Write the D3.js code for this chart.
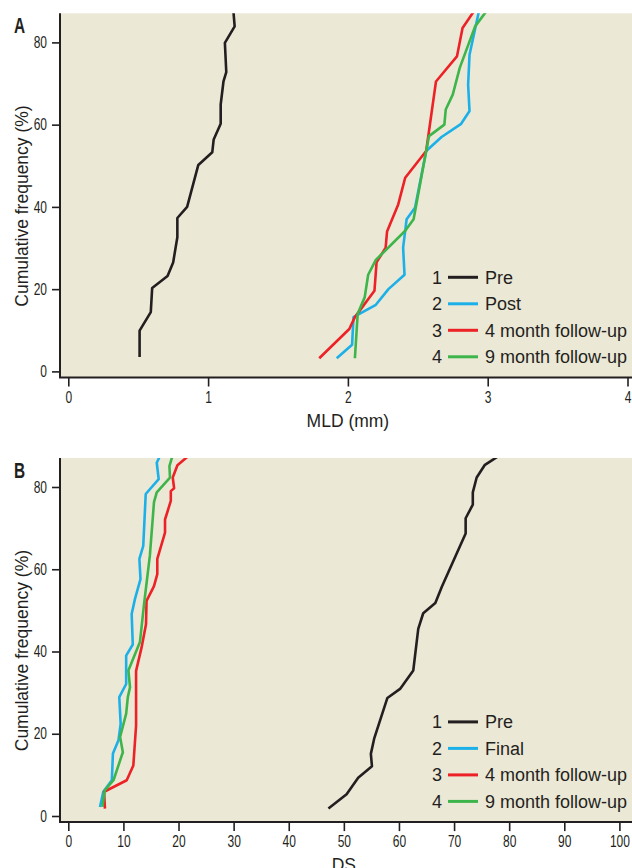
<!DOCTYPE html>
<html>
<head>
<meta charset="utf-8">
<script src="https://cdn.jsdelivr.net/npm/d3@7/dist/d3.min.js"></script>
<style>
  body { margin: 0; background: #fff; }
  svg { display: block; }
  .tick text { font-family: "Liberation Sans", Arial, sans-serif; font-size: 16px; fill: #231f20; }
  .tick line { stroke: #231f20; stroke-width: 1.6; }
  .title { font-family: "Liberation Sans", Arial, sans-serif; font-size: 17.5px; fill: #231f20; }
  .legend text { font-family: "Liberation Sans", Arial, sans-serif; font-size: 18px; fill: #231f20; }
  .panel-label { font-family: "Liberation Sans", Arial, sans-serif; font-weight: bold; font-size: 22px; fill: #231f20; }
</style>
</head>
<body>
<script>
// cumulative frequency (%) vs value
const freqTicks = [0, 20, 40, 60, 80];
const mldTicks = [0, 1, 2, 3, 4];
const dsTicks = [0, 10, 20, 30, 40, 50, 60, 70, 80, 90, 100];

const mldNames = ["Pre", "Post", "4 month follow-up", "9 month follow-up"];
const dsNames = ["Pre", "Final", "4 month follow-up", "9 month follow-up"];
const colors = ["#231f20", "#1cb0e8", "#ec2227", "#3db54a"];

const mldPre = [[0.51,3.5],[0.51,9.9],[0.59,14.4],[0.60,20.3],[0.71,23.2],[0.75,26.5],[0.78,32.6],[0.78,37.3],[0.85,40],[0.93,50.2],[1.03,53.3],[1.04,56.4],[1.09,60.2],[1.09,64.9],[1.11,70.5],[1.13,72.8],[1.12,79.9],[1.19,83.9],[1.18,88]];
const mldPost = [[1.92,3.2],[2.03,6.5],[2.04,13.2],[2.2,16.2],[2.29,20],[2.405,23.5],[2.395,30.1],[2.42,37],[2.48,39.8],[2.56,53.6],[2.67,57],[2.81,60.2],[2.87,63.3],[2.86,69.7],[2.87,77],[2.94,88]];
const mld4m = [[1.795,3.2],[2.01,10.3],[2.05,13.2],[2.19,19.6],[2.205,26.5],[2.27,30.1],[2.28,34],[2.36,40.6],[2.41,47.1],[2.56,53.6],[2.63,70.5],[2.78,76.6],[2.82,83.5],[2.91,88]];
const mld9m = [[2.05,3.2],[2.07,14],[2.12,18],[2.145,23.5],[2.2,27.1],[2.41,34.2],[2.47,37],[2.56,53.6],[2.58,57.2],[2.69,60],[2.70,63.7],[2.75,67.3],[2.8,73.8],[2.91,83.9],[3.0,88]];

const dsPre = [[47.2,1.8],[50.5,5.3],[52.6,9.3],[55.1,12.1],[54.9,15.1],[55.5,18.8],[57.9,28.7],[60.2,30.9],[62.6,35.4],[63.5,45.5],[64.4,49.3],[66.6,51.8],[67.8,55.8],[72.1,68.7],[72.1,72.4],[73.4,75.7],[73.4,78.7],[74.1,82.3],[75.6,85.4],[77,86.6],[78.6,88]];
const dsFinal = [[5.75,2.2],[6.35,5.9],[7.9,8.7],[8.1,15.2],[9.1,18.4],[9.5,22.4],[9.25,28.9],[10.5,32.1],[10.5,39],[11.7,41.7],[11.5,49.1],[12.1,52.8],[13.1,57.6],[12.9,62.5],[13.6,65.7],[14.05,78.3],[16.4,81.9],[16.05,85.9],[16.8,88]];
const ds4m = [[6.65,1.8],[6.5,5.9],[10.6,8.7],[11.8,12.3],[12.3,22],[12.3,35.3],[13.3,41],[14.1,46.6],[14.2,52.3],[15.55,55.9],[16.15,58.8],[16.15,62.5],[17.55,68.9],[17.55,72.1],[18.6,76.6],[18.6,79],[19.2,79.7],[18.95,82.3],[19.8,85.3],[22.2,88]];
const ds9m = [[6.2,2.2],[6.6,6.2],[8.2,8.7],[9.9,15.5],[9.4,19.2],[10.5,24.9],[10.8,28.9],[11.2,31.3],[10.9,35.4],[13,42.3],[13.75,51.6],[14.8,63.3],[15.55,76.3],[16.05,78.7],[18.45,82.3],[18.35,85.1],[19.0,88]];

const width = 632;
const height = 868;
const narrow = 0.75; // no condensed face installed, squeeze the tick digits

const svg = d3.select("body").append("svg")
  .attr("width", width)
  .attr("height", height);

function drawPanel(opts) {
  const g = svg.append("g").attr("transform", `translate(0,${opts.dy})`);
  const left = 60, right = 632, top = 13.3, bottom = 377.5;

  const x = d3.scaleLinear().domain(opts.xDomain).range([68.3, opts.xEnd]);
  const y = d3.scaleLinear().domain([0, 80]).range([371.4, 42.4]);

  g.append("rect")
    .attr("x", left).attr("y", top)
    .attr("width", right - left).attr("height", bottom - top)
    .attr("fill", "#ece8d6");

  g.append("clipPath").attr("id", "clip" + opts.id)
    .append("rect")
    .attr("x", left).attr("y", top)
    .attr("width", right - left).attr("height", bottom - top);

  // y axis
  const yAxis = g.append("g")
    .attr("transform", `translate(${left},0)`)
    .call(d3.axisLeft(y).tickValues(freqTicks).tickSize(8).tickPadding(5));
  yAxis.select(".domain").remove();
  yAxis.selectAll(".tick text")
    .attr("x", -13 / narrow)
    .attr("transform", `scale(${narrow},1)`);

  // x axis
  const xAxis = g.append("g")
    .attr("transform", `translate(0,${bottom})`)
    .call(d3.axisBottom(x).tickValues(opts.ticks).tickSize(9).tickPadding(5).tickFormat(d3.format("d")));
  xAxis.select(".domain").remove();
  xAxis.selectAll(".tick text")
    .attr("transform", `scale(${narrow},1)`);

  // frame (left + bottom)
  g.append("path")
    .attr("d", `M${left},${top}V${bottom}H${right}`)
    .attr("fill", "none")
    .attr("stroke", "#231f20")
    .attr("stroke-width", 2);

  const line = d3.line().x(d => x(d[0])).y(d => y(d[1]));

  g.append("g").attr("clip-path", `url(#clip${opts.id})`)
    .selectAll("path")
    .data(opts.series)
    .join("path")
    .attr("d", line)
    .attr("fill", "none")
    .attr("stroke", (d, i) => colors[i])
    .attr("stroke-width", 2.6)
    .attr("stroke-linejoin", "round");

  // legend
  const legend = g.append("g").attr("class", "legend");
  const rows = legend.selectAll("g")
    .data(opts.names)
    .join("g")
    .attr("transform", (d, i) => `translate(0,${277.3 + i * 26.5})`);
  rows.append("text")
    .attr("x", 442).attr("y", 6.5)
    .attr("text-anchor", "end")
    .text((d, i) => i + 1);
  rows.append("line")
    .attr("x1", 448).attr("x2", 478)
    .attr("stroke", (d, i) => colors[i])
    .attr("stroke-width", 3);
  rows.append("text")
    .attr("x", 485).attr("y", 6.5)
    .text(d => d);

  // titles
  g.append("text")
    .attr("class", "title")
    .attr("transform", "translate(28,206) rotate(-90)")
    .attr("text-anchor", "middle")
    .text("Cumulative frequency (%)");

  g.append("text")
    .attr("class", "title")
    .attr("x", x(opts.xDomain[1] / 2))
    .attr("y", 426.5)
    .attr("text-anchor", "middle")
    .text(opts.xTitle);

  g.append("text")
    .attr("class", "panel-label")
    .attr("transform", "translate(14,33) scale(0.7,1)")
    .text(opts.id);
}

drawPanel({
  id: "A", dy: 0, xDomain: [0, 4], xEnd: 627.5, ticks: mldTicks,
  xTitle: "MLD (mm)", names: mldNames,
  series: [mldPre, mldPost, mld4m, mld9m]
});

drawPanel({
  id: "B", dy: 444.6, xDomain: [0, 100], xEnd: 619.4, ticks: dsTicks,
  xTitle: "DS", names: dsNames,
  series: [dsPre, dsFinal, ds4m, ds9m]
});
</script>
</body>
</html>
